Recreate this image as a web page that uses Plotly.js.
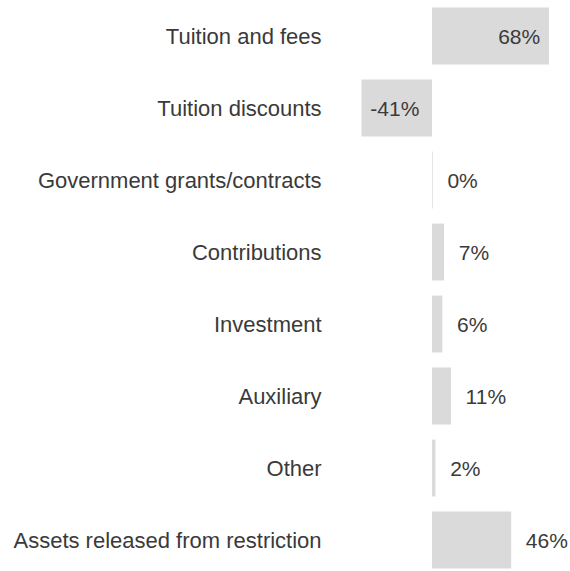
<!DOCTYPE html>
<html>
<head>
<meta charset="utf-8">
<script src="https://cdn.plot.ly/plotly-3.0.1.min.js"></script>
<style>html,body{margin:0;padding:0;background:#fff;}#chart{width:570px;height:571px;}</style>
</head>
<body>
<div id="chart"></div>
<script>
const categories = ["Tuition and fees","Tuition discounts","Government grants/contracts","Contributions","Investment","Auxiliary","Other","Assets released from restriction"];
const values = [68, -41, 0.4, 7, 6, 11, 2, 46];
const labelPositions = ["inside","inside","outside","outside","outside","outside","outside","outside"];

const NB = "\u00a0";
const texts = values.map((v, i) => {
  const s = Math.round(v) + "%";
  if (labelPositions[i] === "outside") return NB + NB + s;
  if (v > 0) return s + NB;
  return NB + s;
});

const FONT = "Liberation Sans, Arial, sans-serif";
const trace = {
  type: "bar",
  orientation: "h",
  y: categories,
  x: values,
  text: texts,
  textposition: labelPositions,
  insidetextanchor: "end",
  textangle: 0,
  constraintext: "none",
  cliponaxis: false,
  textfont: {family: FONT, size: 21, color: "#3a3a3a"},
  insidetextfont: {family: FONT, size: 21, color: "#3a3a3a"},
  outsidetextfont: {family: FONT, size: 21, color: "#3a3a3a"},
  marker: {color: "#dadada", line: {width: 0}},
  hoverinfo: "none"
};

const layout = {
  width: 570, height: 571,
  margin: {l: 335, r: 0, t: 0, b: 0, pad: 0},
  paper_bgcolor: "#ffffff",
  plot_bgcolor: "#ffffff",
  showlegend: false,
  bargap: 0.21,
  font: {family: FONT, size: 22, color: "#3a3a3a"},
  xaxis: {range: [-56.4, 80.2], visible: false, showgrid: false, zeroline: false, fixedrange: true},
  yaxis: {
    type: "category",
    categoryorder: "array",
    categoryarray: categories,
    range: [7.43, -0.5],
    showgrid: false, zeroline: false, showline: false,
    ticks: "outside", ticklen: 8, tickcolor: "rgba(0,0,0,0)",
    tickfont: {family: FONT, size: 22, color: "#3a3a3a"},
    automargin: false, fixedrange: true
  }
};

Plotly.newPlot("chart", [trace], layout, {displayModeBar: false, staticPlot: true});
</script>
</body>
</html>
